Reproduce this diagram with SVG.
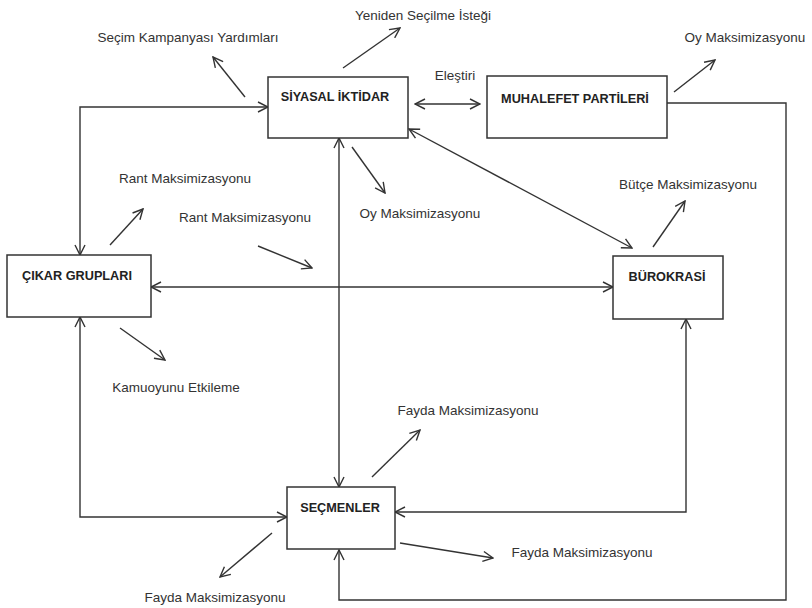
<svg xmlns="http://www.w3.org/2000/svg" width="812" height="608" viewBox="0 0 812 608">
<style>
.box{fill:#fff;stroke:#333;stroke-width:1.5}
.t{font-family:"Liberation Sans",Arial,sans-serif;font-size:13.5px;fill:#333}
.b{font-family:"Liberation Sans",Arial,sans-serif;font-size:12.7px;font-weight:bold;fill:#222}
.c{fill:none;stroke:#333;stroke-width:1.4}
</style>
<defs>
<marker id="ah" viewBox="0 0 12 12" refX="11" refY="6" markerWidth="12" markerHeight="12" markerUnits="userSpaceOnUse" orient="auto-start-reverse">
<path d="M1,1 L11,6 L1,11" fill="none" stroke="#333" stroke-width="1.4"/>
</marker>
</defs>
<rect width="812" height="608" fill="#fff"/>
<g id="connectors">
<path class="c" d="M80,255 V107 H268" marker-start="url(#ah)" marker-end="url(#ah)"/>
<path class="c" d="M151,287 H613" marker-start="url(#ah)" marker-end="url(#ah)"/>
<path class="c" d="M339,138 V487" marker-start="url(#ah)" marker-end="url(#ah)"/>
<path class="c" d="M409,129 L632,248" marker-start="url(#ah)" marker-end="url(#ah)"/>
<path class="c" d="M415,104 H480" marker-start="url(#ah)" marker-end="url(#ah)"/>
<path class="c" d="M667,103 H786 V600 H339 V550" marker-end="url(#ah)"/>
<path class="c" d="M686,319 V512 H395" marker-start="url(#ah)" marker-end="url(#ah)"/>
<path class="c" d="M80,317 V517 H287" marker-start="url(#ah)" marker-end="url(#ah)"/>
<path class="c" d="M245,97 L213,57" marker-end="url(#ah)"/>
<path class="c" d="M343,68 L400,28" marker-end="url(#ah)"/>
<path class="c" d="M674,92 L715,60" marker-end="url(#ah)"/>
<path class="c" d="M352,147 L385,193" marker-end="url(#ah)"/>
<path class="c" d="M653,247 L685,201" marker-end="url(#ah)"/>
<path class="c" d="M110,245 L143,209" marker-end="url(#ah)"/>
<path class="c" d="M258,246 L312,268" marker-end="url(#ah)"/>
<path class="c" d="M120,328 L165,360" marker-end="url(#ah)"/>
<path class="c" d="M372,477 L420,430" marker-end="url(#ah)"/>
<path class="c" d="M272,533 L220,577" marker-end="url(#ah)"/>
<path class="c" d="M400,543 L493,558" marker-end="url(#ah)"/>
</g>
<g id="siyasal"><rect class="box" x="268" y="77" width="140" height="61"/><text class="b" x="335" y="101" text-anchor="middle">SİYASAL İKTİDAR</text></g>
<g id="muhalefet"><rect class="box" x="487" y="76" width="180" height="62"/><text class="b" x="575" y="103" text-anchor="middle">MUHALEFET PARTİLERİ</text></g>
<g id="cikar"><rect class="box" x="7" y="255" width="144" height="62"/><text class="b" x="77" y="280" text-anchor="middle">ÇIKAR GRUPLARI</text></g>
<g id="burokrasi"><rect class="box" x="613" y="256" width="110" height="63"/><text class="b" x="667" y="281" text-anchor="middle">BÜROKRASİ</text></g>
<g id="secmenler"><rect class="box" x="287" y="487" width="108" height="62"/><text class="b" x="340" y="512" text-anchor="middle">SEÇMENLER</text></g>
<g id="labels">
<text class="t" x="188" y="42" text-anchor="middle">Seçim Kampanyası Yardımları</text>
<text class="t" x="423" y="20" text-anchor="middle">Yeniden Seçilme İsteği</text>
<text class="t" x="455" y="80" text-anchor="middle">Eleştiri</text>
<text class="t" x="745" y="42" text-anchor="middle">Oy Maksimizasyonu</text>
<text class="t" x="185" y="183" text-anchor="middle">Rant Maksimizasyonu</text>
<text class="t" x="245" y="222" text-anchor="middle">Rant Maksimizasyonu</text>
<text class="t" x="420" y="218" text-anchor="middle">Oy Maksimizasyonu</text>
<text class="t" x="688" y="189" text-anchor="middle">Bütçe Maksimizasyonu</text>
<text class="t" x="176" y="392" text-anchor="middle">Kamuoyunu Etkileme</text>
<text class="t" x="468" y="415" text-anchor="middle">Fayda Maksimizasyonu</text>
<text class="t" x="582" y="557" text-anchor="middle">Fayda Maksimizasyonu</text>
<text class="t" x="215" y="602" text-anchor="middle">Fayda Maksimizasyonu</text>
</g>
</svg>
